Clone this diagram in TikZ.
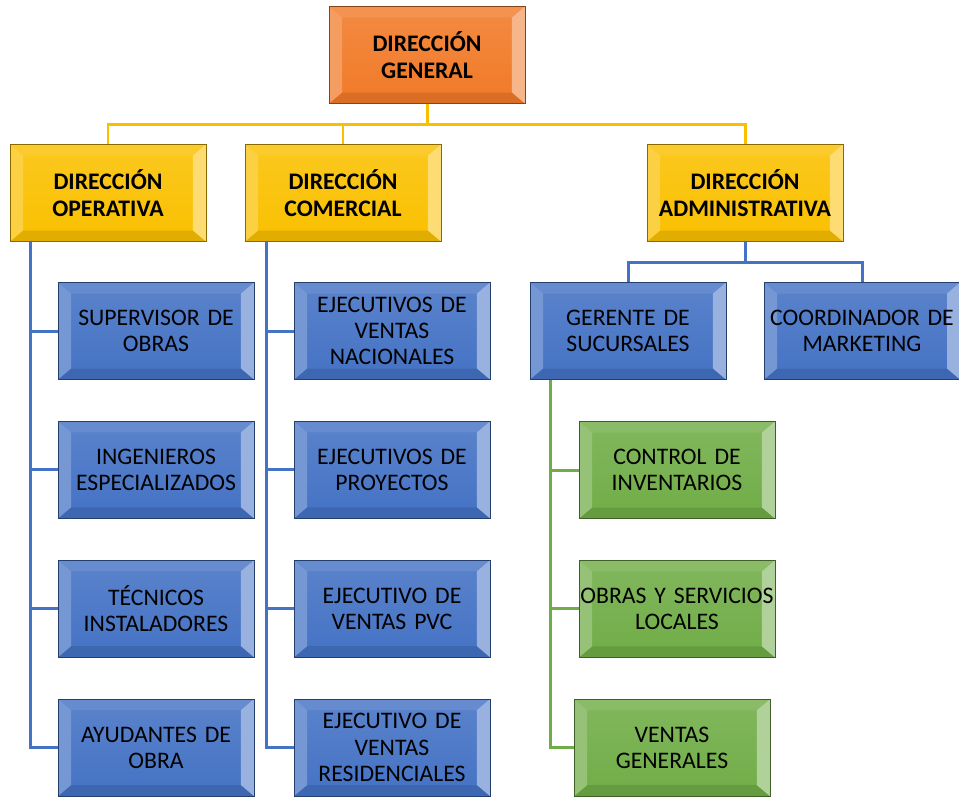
\documentclass[tikz,border=0pt]{standalone}
\usepackage{fontspec}
\setmainfont{Carlito}
\usepackage{tikz}
\usetikzlibrary{positioning}

\definecolor{naranja}{RGB}{241,122,40}
\definecolor{oro}{RGB}{250,192,0}
\definecolor{azul}{RGB}{68,114,196}
\definecolor{verde}{RGB}{112,173,71}

\begin{document}
\begin{tikzpicture}[
        x=0.02cm, y=-0.02cm,
        node distance=0.82cm,
        bevel/.style={
            rectangle,
            top color=#1!88!white,
            bottom color=#1,
            draw=#1!55!black,
            line width=0.5pt,
            minimum width=3.92cm,
            minimum height=1.94cm,
            text width=3.9cm,
            inner sep=0pt,
            align=center,
            font=\fontsize{13.5}{15}\selectfont,
            path picture={
                \fill[#1!82!white] (path picture bounding box.north west) -- (path picture bounding box.north east)
                    -- ([shift={(-0.26cm,-0.22cm)}]path picture bounding box.north east)
                    -- ([shift={(0.26cm,-0.22cm)}]path picture bounding box.north west) -- cycle;
                \fill[#1!90!black] (path picture bounding box.south west) -- (path picture bounding box.south east)
                    -- ([shift={(-0.26cm,0.22cm)}]path picture bounding box.south east)
                    -- ([shift={(0.26cm,0.22cm)}]path picture bounding box.south west) -- cycle;
                \fill[#1!74!white] (path picture bounding box.north west) -- (path picture bounding box.south west)
                    -- ([shift={(0.26cm,0.22cm)}]path picture bounding box.south west)
                    -- ([shift={(0.26cm,-0.22cm)}]path picture bounding box.north west) -- cycle;
                \fill[#1!55!white] (path picture bounding box.north east) -- (path picture bounding box.south east)
                    -- ([shift={(-0.26cm,0.22cm)}]path picture bounding box.south east)
                    -- ([shift={(-0.26cm,-0.22cm)}]path picture bounding box.north east) -- cycle;
            }
        },
        jefe/.style={bevel=#1, font=\fontsize{13.5}{15}\selectfont\bfseries},
        link/.style={draw=#1, line width=1.7pt}
    ]

    \useasboundingbox (0,0) rectangle (959,796);

    % direcciones
    \node (dg) [jefe=naranja] at (427,55) {DIRECCIÓN\\GENERAL};
    \node (dop) [jefe=oro] at (108,193) {DIRECCIÓN\\OPERATIVA};
    \node (dcom) [jefe=oro] at (343,193) {DIRECCIÓN\\COMERCIAL};
    \node (dadm) [jefe=oro] at (745,193) {DIRECCIÓN\\ADMINISTRATIVA};

    % operativa
    \node (sup) [bevel=azul] at (156,331) {SUPERVISOR DE\\OBRAS};
    \node (ing) [bevel=azul, below=of sup] {INGENIEROS\\ESPECIALIZADOS};
    \node (tec) [bevel=azul, below=of ing] {TÉCNICOS\\INSTALADORES};
    \node (ayu) [bevel=azul, below=of tec] {AYUDANTES DE\\OBRA};

    % comercial
    \node (evn) [bevel=azul] at (392,331) {EJECUTIVOS DE\\VENTAS\\NACIONALES};
    \node (epr) [bevel=azul, below=of evn] {EJECUTIVOS DE\\PROYECTOS};
    \node (epvc) [bevel=azul, below=of epr] {EJECUTIVO DE\\VENTAS PVC};
    \node (eres) [bevel=azul, below=of epvc] {EJECUTIVO DE\\VENTAS\\RESIDENCIALES};

    % administrativa
    \node (ger) [bevel=azul] at (628,331) {GERENTE DE\\SUCURSALES};
    \node (coo) [bevel=azul] at (862,331) {COORDINADOR DE\\MARKETING};
    \node (cin) [bevel=verde] at (677,470) {CONTROL DE\\INVENTARIOS};
    \node (obr) [bevel=verde, below=of cin] {OBRAS Y SERVICIOS\\LOCALES};
    \node (ven) [bevel=verde, below=of obr, xshift=-0.1cm] {VENTAS\\GENERALES};

    \draw [link=oro] (dg.south) -- ++(0,21) -| (dop.north);
    \draw [link=oro] (dg.south) -- ++(0,21) -| (dcom.north);
    \draw [link=oro] (dg.south) -- ++(0,21) -| (dadm.north);

    \foreach \n in {sup, ing, tec, ayu}
        \draw [link=azul] ([xshift=-1.56cm]dop.south) |- (\n.west);
    \foreach \n in {evn, epr, epvc, eres}
        \draw [link=azul] ([xshift=-1.54cm]dcom.south) |- (\n.west);

    \draw [link=azul] (dadm.south) -- ++(0,21) -| (ger.north);
    \draw [link=azul] (dadm.south) -- ++(0,21) -| (coo.north);

    \foreach \n in {cin, obr, ven}
        \draw [link=verde] ([xshift=-1.56cm]ger.south) |- (\n.west);

\end{tikzpicture}
\end{document}
